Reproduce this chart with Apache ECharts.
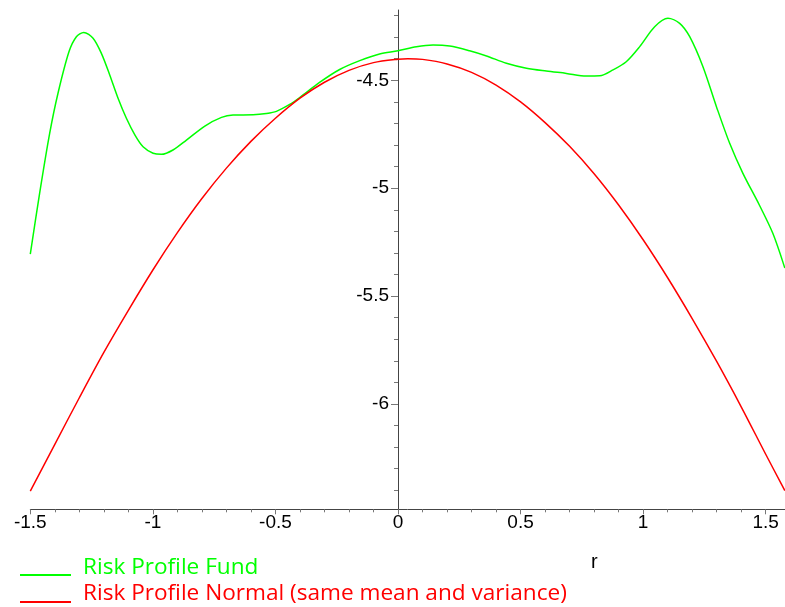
<!DOCTYPE html>
<html>
<head>
<meta charset="utf-8">
<script src="https://cdn.jsdelivr.net/npm/echarts@6/dist/echarts.min.js"></script>
<style>html,body{margin:0;padding:0;background:#fff;}#c{width:785px;height:607px;}</style>
</head>
<body>
<div id="c"></div>
<script>
// ---- data ----
const fundX = [-1.5,-1.462,-1.421,-1.387,-1.342,-1.312,-1.282,-1.244,-1.21,-1.176,-1.142,-1.108,-1.073,-1.04,-0.999,-0.965,-0.918,-0.863,-0.788,-0.72,-0.673,-0.591,-0.537,-0.496,-0.442,-0.401,-0.32,-0.238,-0.156,-0.075,0,0.075,0.143,0.211,0.292,0.361,0.442,0.524,0.605,0.687,0.768,0.823,0.877,0.931,0.986,1.047,1.101,1.149,1.19,1.244,1.299,1.353,1.407,1.475,1.529,1.578];
const fundY = [-5.305,-5.024,-4.746,-4.560,-4.367,-4.298,-4.278,-4.305,-4.375,-4.475,-4.583,-4.676,-4.754,-4.808,-4.838,-4.843,-4.823,-4.777,-4.712,-4.672,-4.661,-4.660,-4.654,-4.644,-4.612,-4.580,-4.510,-4.450,-4.409,-4.378,-4.363,-4.344,-4.336,-4.341,-4.363,-4.387,-4.421,-4.444,-4.457,-4.468,-4.480,-4.479,-4.452,-4.414,-4.344,-4.252,-4.213,-4.236,-4.298,-4.437,-4.622,-4.792,-4.931,-5.080,-5.209,-5.37];
const normX = [-1.5,-1.4,-1.3,-1.2,-1.1,-1.0,-0.9,-0.8,-0.7,-0.6,-0.5,-0.4,-0.3,-0.2,-0.1,0,0.04,0.1,0.2,0.3,0.4,0.5,0.6,0.7,0.8,0.9,1.0,1.1,1.2,1.3,1.4,1.5,1.578];
const normY = [-6.404,-6.187,-5.971,-5.761,-5.566,-5.379,-5.206,-5.048,-4.907,-4.783,-4.676,-4.583,-4.509,-4.454,-4.418,-4.402,-4.400,-4.403,-4.424,-4.463,-4.522,-4.600,-4.696,-4.806,-4.933,-5.078,-5.239,-5.415,-5.604,-5.803,-6.013,-6.233,-6.401];

const seriesNames = ['Risk Profile Fund', 'Risk Profile Normal (same mean and variance)'];
const xAxisName = 'r';

const xMajorTicks = [-1.5,-1,-0.5,0,0.5,1,1.5];
const xMinorTicks = [-1.4,-1.3,-1.2,-1.1,-0.9,-0.8,-0.7,-0.6,-0.4,-0.3,-0.2,-0.1,0.1,0.2,0.3,0.4,0.6,0.7,0.8,0.9,1.1,1.2,1.3,1.4];
const yMajorTicks = [-6,-5.5,-5,-4.5];
const yMinorTicks = [-6.4,-6.3,-6.2,-6.1,-5.9,-5.8,-5.7,-5.6,-5.4,-5.3,-5.2,-5.1,-4.9,-4.8,-4.7,-4.6,-4.4,-4.3,-4.2];

const xMin = -1.5, xMax = 1.5787;
const yMin = -6.488, yMax = -4.1742;

const W = 785, gridLeft = 30.3;
const yAxisOffset = -((0 - xMin) / (xMax - xMin)) * (W - gridLeft);

const zip = (xs, ys) => xs.map((x, i) => [x, ys[i]]);
const fmt = v => String(Math.round(v * 10) / 10);

const chart = echarts.init(document.getElementById('c'), null, {renderer: 'canvas'});
const axisLineStyle = {color: '#444', width: 1};
const tickStyle = {color: '#777', width: 1};
const labelFont = {fontFamily: 'Liberation Sans', fontSize: 19, color: '#000'};

chart.setOption({
  animation: false,
  backgroundColor: '#fff',
  grid: {left: gridLeft, right: 0, top: 10, bottom: 97.7, containLabel: false, outerBoundsMode: 'none'},
  xAxis: [
    {type: 'value', min: xMin, max: xMax, position: 'bottom',
     axisLine: {show: true, onZero: false, lineStyle: axisLineStyle},
     axisTick: {show: true, inside: false, length: 5, lineStyle: tickStyle, customValues: xMajorTicks},
     axisLabel: Object.assign({show: true, margin: 4, customValues: xMajorTicks, formatter: fmt}, labelFont),
     splitLine: {show: false}},
    {type: 'value', min: xMin, max: xMax, position: 'bottom',
     axisLine: {show: false, onZero: false},
     axisTick: {show: true, inside: false, length: 3, lineStyle: tickStyle, customValues: xMinorTicks},
     axisLabel: {show: false},
     splitLine: {show: false}}
  ],
  yAxis: [
    {type: 'value', min: yMin, max: yMax, position: 'left', offset: yAxisOffset,
     axisLine: {show: true, onZero: false, lineStyle: axisLineStyle},
     axisTick: {show: true, inside: false, length: 7, lineStyle: tickStyle, customValues: yMajorTicks},
     axisLabel: Object.assign({show: true, margin: 9, customValues: yMajorTicks, formatter: fmt}, labelFont),
     splitLine: {show: false}},
    {type: 'value', min: yMin, max: yMax, position: 'left', offset: yAxisOffset,
     axisLine: {show: false, onZero: false},
     axisTick: {show: true, inside: false, length: 4, lineStyle: tickStyle, customValues: yMinorTicks},
     axisLabel: {show: false},
     splitLine: {show: false}}
  ],
  series: [
    {name: seriesNames[0], type: 'line', xAxisIndex: 0, yAxisIndex: 0, data: zip(fundX, fundY),
     smooth: 0.3, showSymbol: false, lineStyle: {color: '#00ff00', width: 1.5}, itemStyle: {color: '#00ff00'}},
    {name: seriesNames[1], type: 'line', xAxisIndex: 0, yAxisIndex: 0, data: zip(normX, normY),
     smooth: 0.3, showSymbol: false, lineStyle: {color: '#ff0000', width: 1.5}, itemStyle: {color: '#ff0000'}}
  ],
  graphic: [
    {type: 'text', left: 591, top: 552, style: {text: xAxisName, font: '20px "Liberation Sans"', fill: '#000'}},
    {type: 'line', shape: {x1: 20, y1: 575, x2: 71, y2: 575}, style: {stroke: '#00ff00', lineWidth: 2}},
    {type: 'text', left: 83, top: 556, style: {text: seriesNames[0], font: '22.6px "Open Sans"', fill: '#00ff00'}},
    {type: 'line', shape: {x1: 20, y1: 602, x2: 71, y2: 602}, style: {stroke: '#ff0000', lineWidth: 2}},
    {type: 'text', left: 83, top: 582.5, style: {text: seriesNames[1], font: '22.6px "Open Sans"', fill: '#ff0000'}}
  ]
});
</script>
</body>
</html>
